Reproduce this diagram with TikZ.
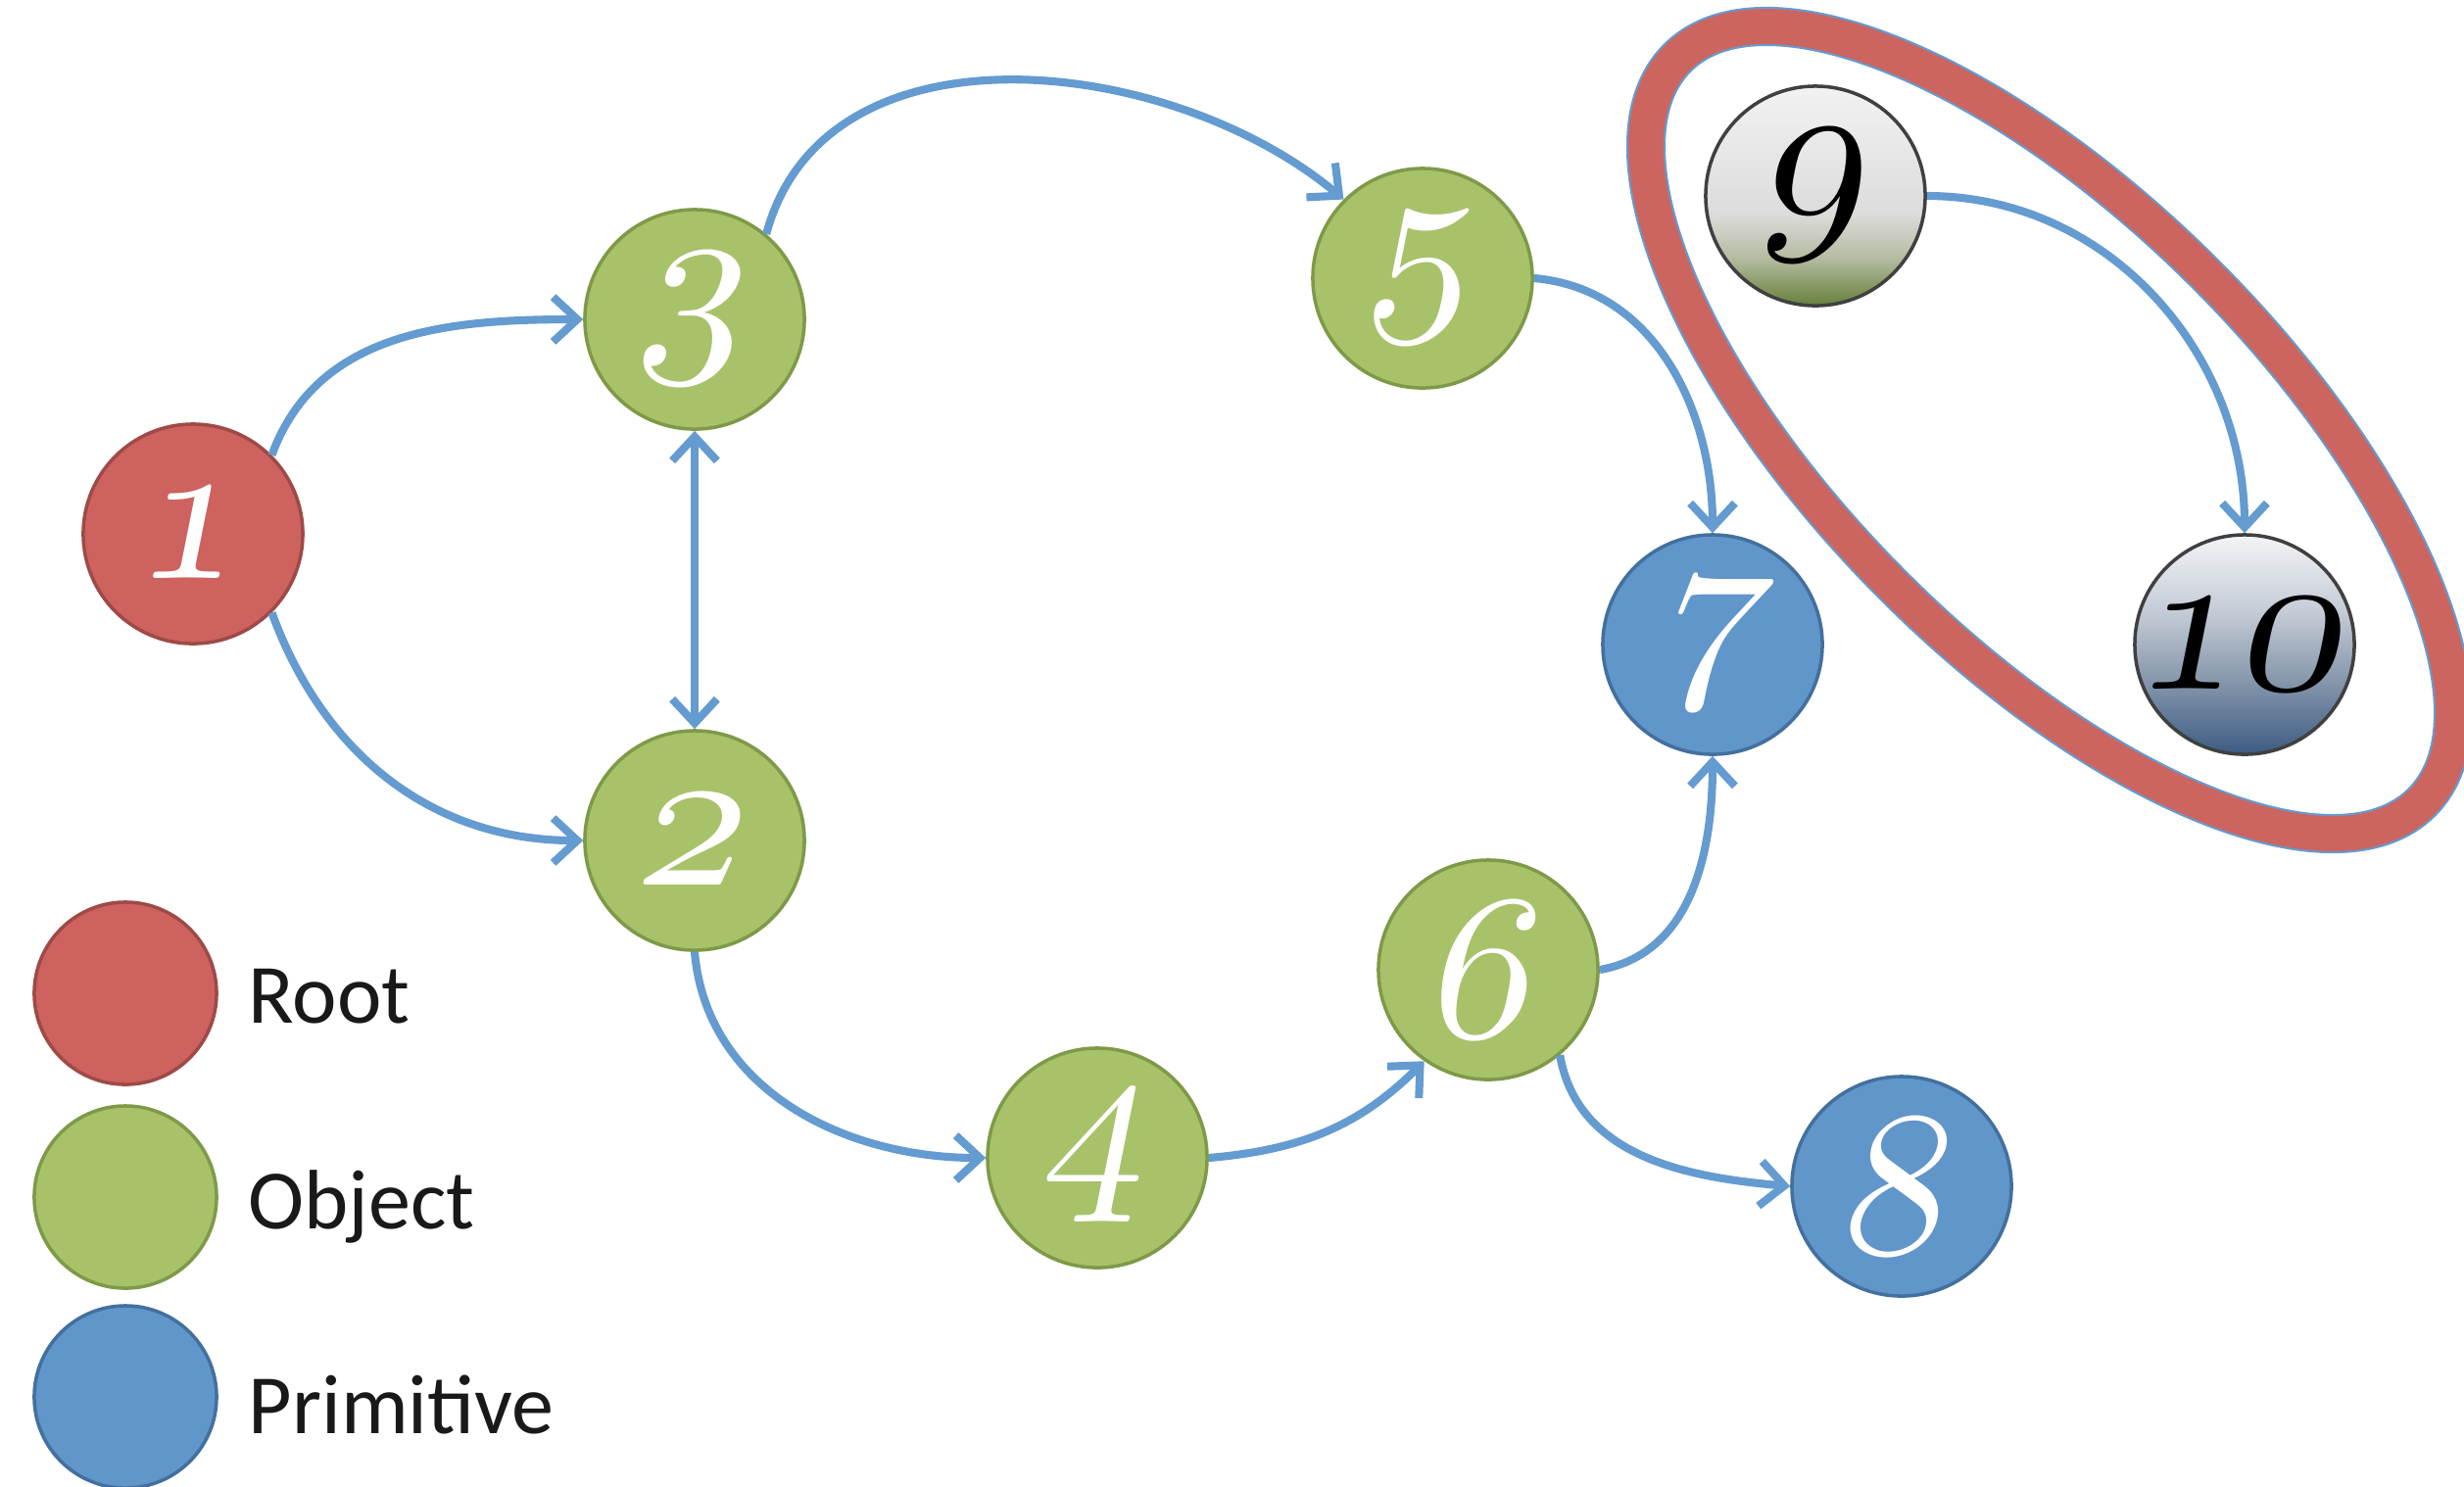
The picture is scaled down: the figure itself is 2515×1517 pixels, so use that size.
\documentclass[tikz,border=0pt]{standalone}
\usepackage{fontspec}
\setmainfont{Carlito}
\usetikzlibrary{arrows.meta}

% old-style figures from Computer Modern math italic at any size, leaned to the right;
% the figure box is given no width so that every vertex keeps the same diameter
\DeclareFontFamily{OML}{cmmbig}{\skewchar\font=127}
\DeclareFontShape{OML}{cmmbig}{m}{it}{<-> cmmi10}{}
\newcommand\numface{\fontsize{60}{60}\usefont{OML}{cmmbig}{m}{it}}
\newcommand\slnum[1]{\makebox[0pt]{\tikz[baseline=(fig.base)]\node[shape=rectangle,
  minimum size=0pt, inner sep=0pt, xslant=0.2, transform shape] (fig) {#1};}}

\definecolor{rootfill}{HTML}{CD625E}
\definecolor{rootline}{HTML}{9E4A47}
\definecolor{objfill}{HTML}{A8C26A}
\definecolor{objline}{HTML}{7E9A48}
\definecolor{primfill}{HTML}{6096C9}
\definecolor{primline}{HTML}{43709E}
\definecolor{edgeblue}{HTML}{649BD0}
\definecolor{ringred}{HTML}{CC6560}
\definecolor{ninebot}{HTML}{66803A}
\definecolor{ninemid}{HTML}{B5BCA2}
\definecolor{lightg}{HTML}{F2F2F2}
\definecolor{midg}{HTML}{DCDCDC}
\definecolor{tenbot}{HTML}{3C5C84}
\definecolor{tenmid}{HTML}{8797AC}
\definecolor{tenlight}{HTML}{C6CDD7}
\definecolor{tentop}{HTML}{F3F4F6}

\pgfdeclareverticalshading{nineshade}{100bp}{color(0bp)=(ninebot); color(25bp)=(ninebot);
  color(36bp)=(ninemid); color(46bp)=(midg); color(75bp)=(lightg); color(100bp)=(lightg)}
\pgfdeclareverticalshading{tenshade}{100bp}{color(0bp)=(tenbot); color(25bp)=(tenbot);
  color(42bp)=(tenmid); color(58bp)=(tenlight); color(75bp)=(tentop); color(100bp)=(tentop)}

\tikzset{
  vertex/.style={circle, minimum size=2.24cm, inner sep=0pt, line width=1pt,
    font=\numface, text=white},
  rootv/.style={vertex, fill=rootfill, draw=rootline},
  objv/.style={vertex, fill=objfill, draw=objline},
  primv/.style={vertex, fill=primfill, draw=primline},
  greyv/.style={vertex, draw=black!75, text=black},
  legendv/.style={circle, minimum size=1.86cm, inner sep=0pt, line width=1pt},
  legendtext/.style={anchor=base west, inner sep=0pt, text=black!90,
    font=\fontsize{24.5}{26}\selectfont},
  link/.style={draw=edgeblue, line width=2.3pt, -{Straight Barb[length=7pt,width=13pt]}},
  twoway/.style={draw=edgeblue, line width=2.3pt,
    {Straight Barb[length=7pt,width=13pt]}-{Straight Barb[length=7pt,width=13pt]}},
}

\begin{document}
\begin{tikzpicture}[x=0.01cm, y=0.01cm]
  \useasboundingbox (0,-1517) rectangle (2515,0);

  % ring around the unreachable pair
  \draw[edgeblue, line width=11.4pt, rotate around={-45:(2092,-439)}]
    (2092,-439) ellipse [x radius=5.37cm, y radius=2.25cm];
  \draw[ringred, line width=10.2pt, rotate around={-45:(2092,-439)}]
    (2092,-439) ellipse [x radius=5.37cm, y radius=2.25cm];

  % graph vertices
  \node[rootv] (n1) at (197,-545) {\slnum{1}};
  \node[objv]  (n3) at (709,-326) {\slnum{3}};
  \node[objv]  (n2) at (709,-858) {\slnum{2}};
  \node[objv]  (n5) at (1452,-284) {\slnum{5}};
  \node[primv] (n7) at (1748,-658) {\slnum{7}};
  \node[objv]  (n4) at (1120,-1182) {\slnum{4}};
  \node[objv]  (n6) at (1519,-990) {\slnum{6}};
  \node[primv] (n8) at (1941,-1211) {\slnum{8}};
  \node[greyv, shading=nineshade] (n9) at (1853,-200) {\slnum{9}};
  \node[greyv, shading=tenshade] (n10) at (2291,-658) {\slnum{10}};

  % references
  \draw[link] (n1.45) to[out=70,in=180] (n3.west);
  \draw[link] (n1.-45) to[out=-70,in=180] (n2.west);
  \draw[twoway] (n3.south) -- (n2.north);
  \draw[link] (n3.50) to[out=75,in=140] (n5.135);
  \draw[link] (n5.east) to[out=-5,in=90] (n7.north);
  \draw[link] (n2.south) to[out=-85,in=180] (n4.west);
  \draw[link] (n4.east) to[out=5,in=225] (n6.-125);
  \draw[link] (n6.east) to[out=10,in=-90] (n7.south);
  \draw[link] (n6.-50) to[out=-80,in=175] (n8.west);
  \draw[link] (n9.east) to[out=0,in=90] (n10.north);

  % legend
  \node[legendv, fill=rootfill, draw=rootline] (kroot) at (128,-1014) {};
  \node[legendv, fill=objfill, draw=objline] (kobj) at (128,-1222) {};
  \node[legendv, fill=primfill, draw=primline] (kprim) at (128,-1426) {};
  \node[legendtext] (troot) at (253,-1044) {Root};
  \node[legendtext] (tobj) at (253,-1254) {Object};
  \node[legendtext] (tprim) at (253,-1463) {Primitive};
\end{tikzpicture}
\end{document}
